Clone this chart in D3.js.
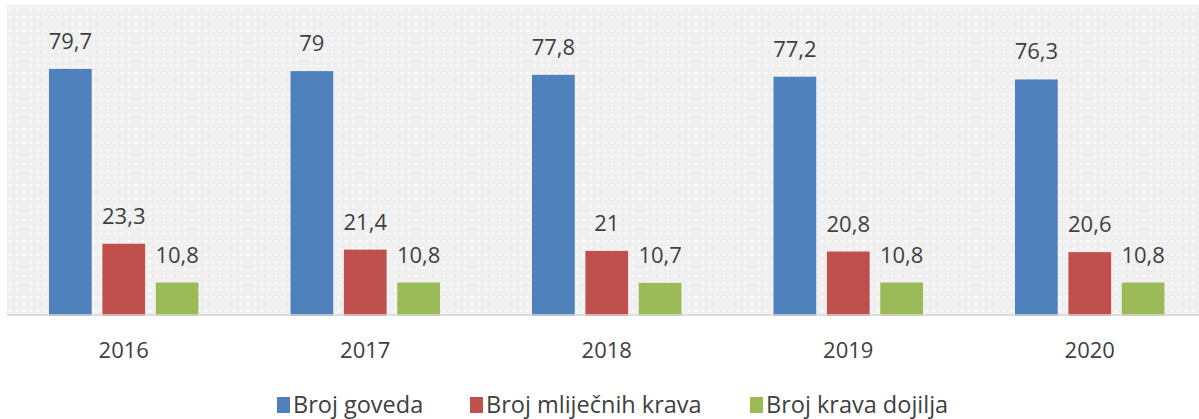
<!DOCTYPE html>
<html>
<head>
<meta charset="utf-8">
<script src="https://cdn.jsdelivr.net/npm/d3@7"></script>
<style>
  body { margin: 0; background: #fff; }
  svg { display: block; font-family: "Open Sans", sans-serif; }
</style>
</head>
<body>
<div id="chart"></div>
<script>
const years = ['2016', '2017', '2018', '2019', '2020'];
const seriesNames = ['Broj goveda', 'Broj mliječnih krava', 'Broj krava dojilja'];
const goveda = [79.7, 79, 77.8, 77.2, 76.3];
const mlijecne = [23.3, 21.4, 21, 20.8, 20.6];
const dojilje = [10.8, 10.8, 10.7, 10.8, 10.8];
const colors = ['#4f81bd', '#c0504d', '#9bbb59'];

const width = 1199, height = 419;
const plot = { left: 7, top: 5, bottom: 316 };

const svg = d3.select('#chart').append('svg')
  .attr('width', width)
  .attr('height', height);

// dotted background pattern
const defs = svg.append('defs');
const pat = defs.append('pattern')
  .attr('id', 'dots')
  .attr('width', 7)
  .attr('height', 7)
  .attr('patternUnits', 'userSpaceOnUse');
pat.append('rect').attr('width', 7).attr('height', 7).attr('fill', '#f0f0f0');
pat.append('rect').attr('x', 2).attr('y', 2).attr('width', 2).attr('height', 2).attr('fill', '#fbfbfb');

svg.append('rect')
  .attr('x', plot.left)
  .attr('y', plot.top)
  .attr('width', width - plot.left)
  .attr('height', plot.bottom - plot.top)
  .attr('fill', 'url(#dots)');

const x0 = d3.scaleBand()
  .domain(years)
  .range([3, 3 + 241.5 * years.length])
  .paddingInner(0)
  .paddingOuter(0);

const x1 = d3.scaleBand()
  .domain(seriesNames)
  .range([46, 241.5 - 46])
  .paddingInner(0.2)
  .paddingOuter(0);

const y = d3.scaleLinear()
  .domain([0, 100])
  .range([plot.bottom, 6]);

const rows = years.map((yr, i) => ({
  year: yr,
  values: [goveda[i], mlijecne[i], dojilje[i]]
}));

const fmt = v => String(v).replace('.', ',');

const groups = svg.selectAll('g.year')
  .data(rows)
  .enter().append('g')
  .attr('class', 'year')
  .attr('transform', d => `translate(${x0(d.year)},0)`);

groups.selectAll('rect.bar')
  .data(d => d.values.map((v, j) => ({ name: seriesNames[j], value: v, j })))
  .enter().append('rect')
  .attr('class', 'bar')
  .attr('x', d => x1(d.name))
  .attr('y', d => y(d.value))
  .attr('width', x1.bandwidth())
  .attr('height', d => y(0) - y(d.value))
  .attr('fill', d => colors[d.j]);

groups.selectAll('text.val')
  .data(d => d.values.map((v, j) => ({ name: seriesNames[j], value: v })))
  .enter().append('text')
  .attr('class', 'val')
  .attr('x', d => x1(d.name) + x1.bandwidth() / 2)
  .attr('y', d => y(d.value) - 20)
  .attr('text-anchor', 'middle')
  .attr('font-size', 22)
  .attr('fill', '#404040')
  .text(d => fmt(d.value));

// baseline
svg.append('line')
  .attr('x1', plot.left)
  .attr('x2', width)
  .attr('y1', y(0) - 1)
  .attr('y2', y(0) - 1)
  .attr('stroke', '#d9d9d9')
  .attr('stroke-width', 1.5);

// x axis labels
const xAxis = d3.axisBottom(x0).tickSize(0).tickPadding(0);
const gx = svg.append('g')
  .attr('transform', `translate(0,${plot.bottom})`)
  .call(xAxis);
gx.select('.domain').remove();
gx.selectAll('text')
  .attr('y', 42)
  .attr('dy', 0)
  .attr('font-size', 22)
  .attr('font-family', '"Open Sans", sans-serif')
  .attr('fill', '#404040');

// legend
const legendX = [277, 470, 750];
const legend = svg.selectAll('g.legend')
  .data(seriesNames)
  .enter().append('g')
  .attr('class', 'legend')
  .attr('transform', (d, i) => `translate(${legendX[i]},397)`);

legend.append('rect')
  .attr('width', 13)
  .attr('height', 16)
  .attr('fill', (d, i) => colors[i]);

legend.append('text')
  .attr('x', 16)
  .attr('y', 16)
  .attr('font-size', 23.5)
  .attr('fill', '#404040')
  .text(d => d);
</script>
</body>
</html>
